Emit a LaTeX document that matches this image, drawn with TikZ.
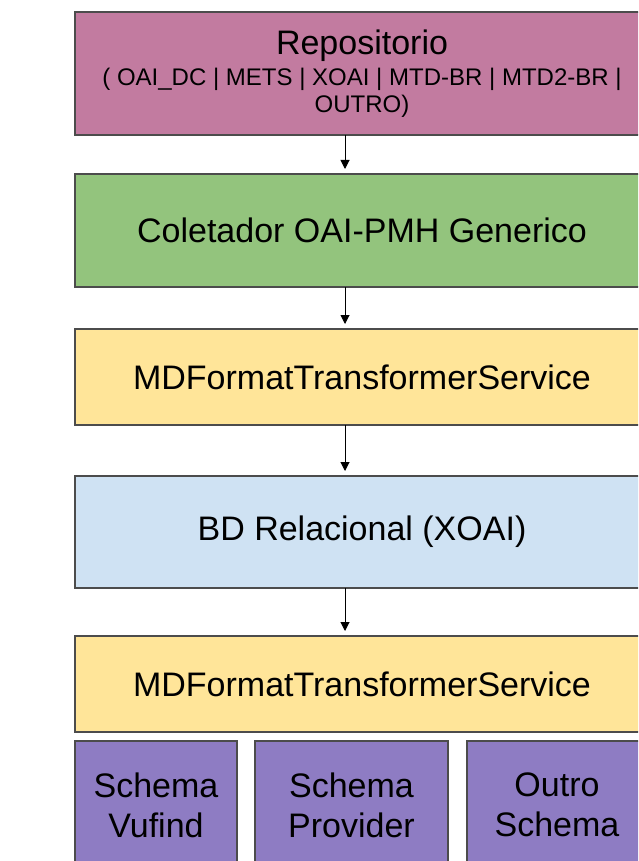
\documentclass[tikz,border=0pt]{standalone}
\usepackage{fontspec}
\setmainfont{Liberation Sans}
\usetikzlibrary{arrows.meta,positioning}
\definecolor{repocol}{HTML}{C27BA0}
\definecolor{coletcol}{HTML}{93C47D}
\definecolor{servcol}{HTML}{FFE599}
\definecolor{bdcol}{HTML}{CFE2F3}
\definecolor{schemacol}{HTML}{8E7CC3}
\tikzstyle{layer}=[draw=black!70,line width=1.2pt,inner sep=0pt,outer sep=0pt,align=center,font=\fontsize{34}{40}\selectfont]
\tikzstyle{flow} = [draw,line width=1pt,-{Triangle[length=9pt,width=9pt]},shorten >=5pt]

\begin{document}
\begin{tikzpicture}[x=1pt,y=-1pt]
    \useasboundingbox (0,0) rectangle (638,861);
    \clip (0,0) rectangle (638,861);
    % Draw the layers of the pipeline
    \node[layer,fill=repocol,minimum width=574pt,minimum height=123pt,font=\fontsize{24}{27}\selectfont] (repo) at (362,73.5)
        {\fontsize{34}{38}\selectfont Repositorio\\[4pt]( OAI\_DC | METS | XOAI | MTD-BR | MTD2-BR |\\OUTRO)};
    \node[layer,fill=coletcol,minimum width=574pt,minimum height=113pt] (coletor) at (362,230.5) {Coletador OAI-PMH Generico};
    \node[layer,fill=servcol,minimum width=574pt,minimum height=96pt] (mdft1) at (362,377) {MDFormatTransformerService};
    \node[layer,fill=bdcol,minimum width=574pt,minimum height=112pt] (bd) at (362,532) {BD Relacional (XOAI)};
    \node[layer,fill=servcol,minimum width=574pt,minimum height=96pt] (mdft2) at (362,684) {MDFormatTransformerService};

    % The output schemas
    \foreach \pos/\bw/\name/\txt in {{(156,805)/162/vufind/Schema\\Vufind}, {(351.5,805)/193/provider/Schema\\Provider}, {(557,805)/180/outro/Outro\\Schema}}
        \node[layer,fill=schemacol,minimum width=\bw pt,minimum height=128pt] (\name) at \pos {\txt};

    % Connect the layers with arrows
    \coordinate (axis) at (345,0);
    \foreach \source/\dest in {repo/coletor, coletor/mdft1, mdft1/bd, bd/mdft2}
        \path[flow] (\source.south -| axis) -- (\dest.north -| axis);
\end{tikzpicture}
\end{document}
